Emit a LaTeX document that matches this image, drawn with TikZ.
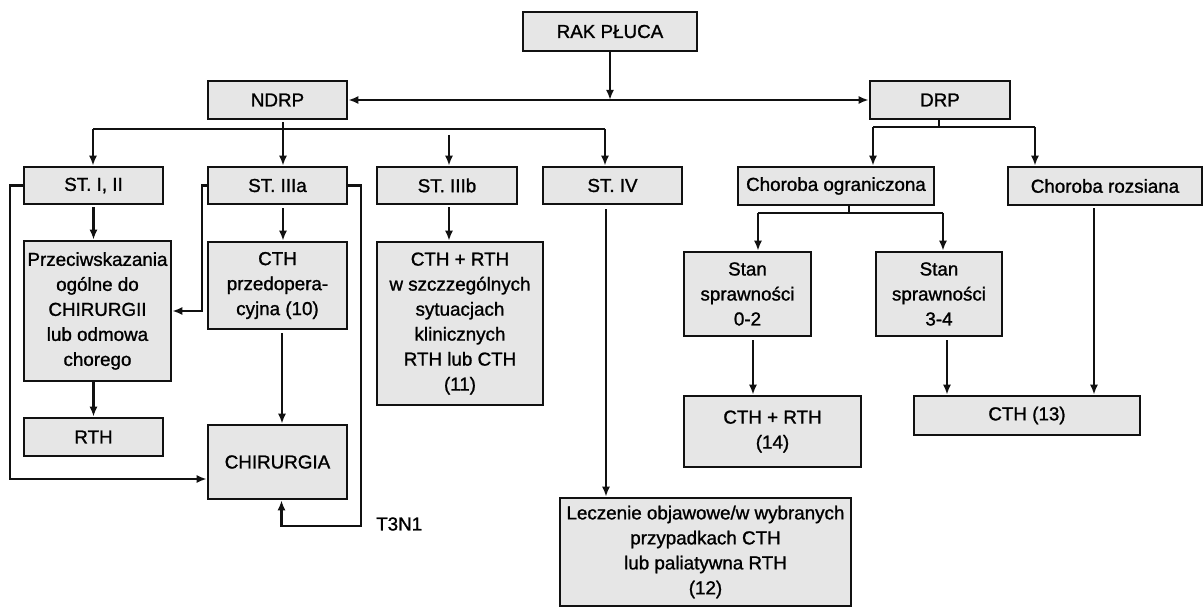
\documentclass[tikz,border=0pt]{standalone}
\usepackage{fontspec}
\setmainfont{Liberation Sans}[FakeBold=1.2]
\usetikzlibrary{arrows.meta,calc}
\definecolor{boxfill}{HTML}{E6E6E6}
\definecolor{ink}{HTML}{111111}
\tikzset{
  box/.style={draw=ink, fill=boxfill, line width=2.6bp, inner sep=0pt, align=center,
    font=\fontsize{18.8bp}{25bp}\selectfont},
  lbl/.style={inner sep=0pt, font=\fontsize{18.8bp}{25bp}\selectfont},
  conn/.style={draw=ink, line width=2.4bp},
  arr/.style={conn, -{Latex[length=10bp,width=8bp]}},
  darr/.style={conn, {Latex[length=10bp,width=8bp]}-{Latex[length=10bp,width=8bp]}},
}
\begin{document}
\begin{tikzpicture}[x=1bp,y=-1bp]
\useasboundingbox (0,0) rectangle (1204,609);
% boxes
\node[box, minimum width=174bp, minimum height=39bp] (rak) at (610,31.5) {RAK PŁUCA};
\node[box, minimum width=139bp, minimum height=38bp] (ndrp) at (277.5,100) {NDRP};
\node[box, minimum width=140bp, minimum height=38bp] (drp) at (940,100) {DRP};
\node[box, minimum width=139bp, minimum height=37bp] (st12) at (93.5,185.5) {ST. I, II};
\node[box, minimum width=139bp, minimum height=37bp] (st3a) at (277.5,185.5) {ST. IIIa};
\node[box, minimum width=140bp, minimum height=37bp] (st3b) at (447,185.5) {ST. IIIb};
\node[box, minimum width=139bp, minimum height=37bp] (st4) at (612.5,185.5) {ST. IV};
\node[box, minimum width=196bp, minimum height=38bp] (chog) at (836,186) {Choroba ograniczona};
\node[box, minimum width=194bp, minimum height=38bp] (chroz) at (1105,186) {Choroba rozsiana};
\node[box, minimum width=147bp, minimum height=140bp] (przec) at (97.5,311) {Przeciwskazania\\ogólne do\\CHIRURGII\\lub odmowa\\chorego};
\node[box, minimum width=139bp, minimum height=87bp] (cthp) at (277.5,285.5) {CTH\\przedopera-\\cyjna (10)};
\node[box, minimum width=166bp, minimum height=163bp] (cthrtha) at (460,323.5) {CTH + RTH\\w szczzególnych\\sytuacjach\\klinicznych\\RTH lub CTH\\(11)};
\node[box, minimum width=127bp, minimum height=84bp] (stana) at (747.5,294) {Stan\\sprawności\\0-2};
\node[box, minimum width=126bp, minimum height=84bp] (stanb) at (939,294) {Stan\\sprawności\\3-4};
\node[box, minimum width=139bp, minimum height=38bp] (rth) at (93.5,437) {RTH};
\node[box, minimum width=139bp, minimum height=74bp] (chir) at (277.5,462) {CHIRURGIA};
\node[box, minimum width=177bp, minimum height=71bp] (cthrthb) at (772.5,431.5) {CTH + RTH\\(14)};
\node[box, minimum width=226bp, minimum height=39bp] (cthc) at (1027,415.5) {CTH (13)};
\node[box, minimum width=291bp, minimum height=108bp] (lecz) at (705.5,552) {Leczenie objawowe/w wybranych\\przypadkach CTH\\lub paliatywna RTH\\(12)};
\node[lbl, anchor=west] (t3n1) at (376,524) {T3N1};
% junction coordinates
\coordinate (ja) at (93,129);
\coordinate (jb) at (605,129);
\coordinate (jc) at (449,135);
\coordinate (jd) at (873,127);
\coordinate (je) at (1035,127);
\coordinate (jf) at (758,213);
\coordinate (jg) at (943,213);
\coordinate (lp) at (10,479);
\coordinate (rp) at (361,526);
% top level
\draw[arr] (rak.south) -- (rak.south |- ndrp.east);
\draw[darr] (ndrp) -- (drp);
% NDRP branches
\draw[conn] (ja) -- (jb);
\draw[arr] (ja) -- (ja |- st12.north);
\draw[arr] (jb) -- (jb |- st4.north);
\draw[arr, shorten <=2bp] ([xshift=5.5bp]ndrp.south) -- ([xshift=5.5bp]st3a.north);
\draw[arr] (jc) -- (jc |- st3b.north);
% DRP branches
\draw[conn] (drp.south -| 939,0) -- (939,127);
\draw[conn] (jd) -- (je);
\draw[arr] (jd) -- (jd |- chog.north);
\draw[arr] (je) -- (je |- chroz.north);
% Choroba ograniczona
\draw[conn] ([xshift=13bp]chog.south) -- ([xshift=13bp]chog.south |- jf);
\draw[conn] (jf) -- (jg);
\draw[arr] (jf) -- (jf |- stana.north);
\draw[arr] (jg) -- (jg |- stanb.north);
% ST I, II
\draw[arr, shorten <=2bp] (st12.south) -- (st12.south |- przec.north);
\draw[arr] (przec.south -| rth.north) -- (rth.north);
\draw[arr] (st12.west) -| (lp) -- (lp -| chir.west);
% ST IIIa
\draw[arr] (st3a.west) -- ++(-5,0) |- (przec.east);
\draw[arr] (st3a.east) -| (rp) -| ([xshift=4bp]chir.south);
\draw[arr, shorten <=3bp] ([xshift=5.5bp]st3a.south) -- ([xshift=5.5bp]cthp.north);
\draw[arr, shorten <=3bp] ([xshift=4.5bp]cthp.south) -- ([xshift=4.5bp]chir.north);
% ST IIIb
\draw[arr, shorten <=2bp] ([xshift=2bp]st3b.south) -- ([xshift=2bp]st3b.south |- cthrtha.north);
% ST IV
\draw[arr, shorten <=4bp] ([xshift=-6.5bp]st4.south) -- ([xshift=-6.5bp]st4.south |- lecz.north);
% Stan -> treatments
\draw[arr, shorten <=3bp] ([xshift=5.5bp]stana.south) -- ([xshift=5.5bp]stana.south |- cthrthb.north);
\draw[arr, shorten <=3bp] ([xshift=8bp]stanb.south) -- ([xshift=8bp]stanb.south |- cthc.north);
\draw[arr, shorten <=2bp] ([xshift=-11bp]chroz.south) -- ([xshift=-11bp]chroz.south |- cthc.north);
\end{tikzpicture}
\end{document}
